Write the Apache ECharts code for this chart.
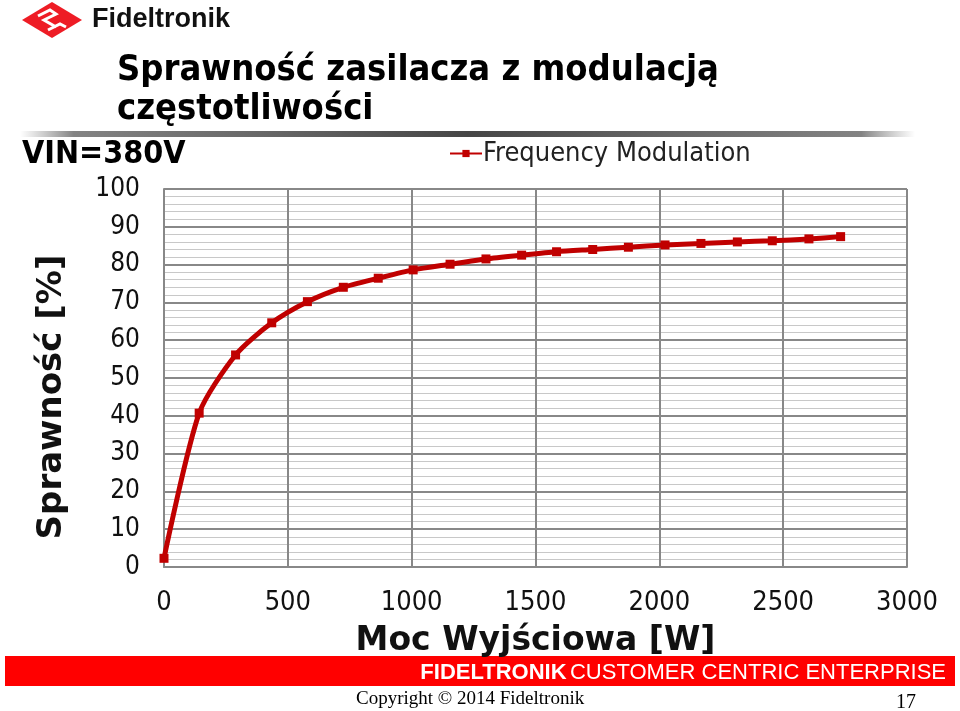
<!DOCTYPE html>
<html><head><meta charset="utf-8">
<script src="https://cdn.jsdelivr.net/npm/echarts@6/dist/echarts.min.js"></script>
<style>html,body{margin:0;padding:0;background:#fff}#c{width:960px;height:711px}</style>
</head><body><div id="c"></div>
<script>
const powerW = [0,142,289,435,579,724,865,1006,1155,1300,1444,1585,1731,1875,2023,2168,2315,2456,2604,2732];
const efficiency = [2.3,40.7,56.1,64.6,70.2,74.0,76.4,78.6,80.1,81.5,82.5,83.4,84.0,84.6,85.2,85.6,86.0,86.3,86.8,87.4];
const seriesName = 'Frequency Modulation';
const titleLines = ['Sprawność zasilacza z modulacją','częstotliwości'];
const yAxisName = 'Sprawność [%]';
const xAxisName = 'Moc Wyjściowa [W]';
const subTitle = 'VIN=380V';

const cond = "'DejaVu Sans Condensed','DejaVu Sans',sans-serif";
const chart = echarts.init(document.getElementById('c'));
chart.setOption({
  animation:false,
  backgroundColor:'#fff',
  grid:{left:164,right:53,top:189,bottom:144,containLabel:false},
  legend:{show:true,left:444,top:135,itemWidth:32,itemHeight:9,itemGap:2,
    textStyle:{fontFamily:cond,fontSize:27,color:'#222',padding:[0,0,0,-4]},data:[seriesName]},
  xAxis:{type:'value',min:0,max:3000,interval:500,
    axisLine:{show:true,lineStyle:{color:'#888',width:2}},
    axisTick:{show:false},
    axisLabel:{margin:22,fontFamily:cond,fontSize:27,color:'#111',formatter:v=>String(v)},
    splitLine:{show:true,lineStyle:{color:'#888',width:2}},
    name:xAxisName,nameLocation:'middle',nameGap:58,
    nameTextStyle:{fontFamily:"'DejaVu Sans',sans-serif",fontWeight:'bold',fontSize:33,color:'#111'}},
  yAxis:{type:'value',min:0,max:100,interval:10,
    axisLine:{show:true,lineStyle:{color:'#888',width:2}},
    axisTick:{show:false},
    axisLabel:{margin:24,fontFamily:cond,fontSize:26,color:'#111'},
    splitLine:{show:true,lineStyle:{color:'#888',width:2}},
    minorTick:{show:false,splitNumber:5},
    minorSplitLine:{show:true,lineStyle:{color:'#c8c8c8',width:1}}},
  series:[{
    name:seriesName,type:'line',
    data:powerW.map((x,i)=>[x,efficiency[i]]),
    smooth:0.25,
    symbol:'rect',symbolSize:9,
    lineStyle:{color:'#c00000',width:5},
    itemStyle:{color:'#c00000'}
  }],
  graphic:[
    // logo
    {type:'polygon',shape:{points:[[22,20],[52,2],[82,20],[52,38]]},style:{fill:'#ee1c25'}},
    {type:'polyline',shape:{points:[[38,16],[50,10],[56,14],[44,20],[56,27]]},style:{stroke:'#fff',lineWidth:3,fill:'none'}},
    {type:'polyline',shape:{points:[[48,30],[60,24],[66,27]]},style:{stroke:'#fff',lineWidth:3,fill:'none'}},
    {type:'text',left:92,top:6,style:{text:'Fideltronik',font:"bold 27px 'Liberation Sans', Arial, sans-serif",fill:'#111'}},
    // title
    {type:'text',left:117,top:53,style:{text:titleLines[0],font:"bold 36px 'DejaVu Sans Condensed','DejaVu Sans',sans-serif",fill:'#000'}},
    {type:'text',left:117,top:92,style:{text:titleLines[1],font:"bold 36px 'DejaVu Sans Condensed','DejaVu Sans',sans-serif",fill:'#000'}},
    // shadow bar
    {type:'rect',shape:{x:20,y:131,width:895,height:6},style:{fill:new echarts.graphic.LinearGradient(0,0,1,0,[
      {offset:0,color:'rgba(120,120,120,0)'},{offset:0.06,color:'rgba(100,100,100,0.8)'},{offset:0.5,color:'rgba(70,70,70,1)'},
      {offset:0.94,color:'rgba(100,100,100,0.8)'},{offset:1,color:'rgba(120,120,120,0)'}])}},
    {type:'text',left:22,top:139,style:{text:subTitle,font:"bold 32px 'DejaVu Sans Condensed','DejaVu Sans',sans-serif",fill:'#000'}},
    // y axis name
    {type:'text',x:52,y:397,rotation:Math.PI/2,style:{text:yAxisName,align:'center',verticalAlign:'middle',font:"bold 34px 'DejaVu Sans',sans-serif",fill:'#111'}},
    // footer
    {type:'rect',shape:{x:5,y:656,width:950,height:30},style:{fill:'#ff0000'}},
    {type:'text',right:14,top:662,style:{rich:{b:{font:"bold 22px 'Liberation Sans', Arial, sans-serif",fill:'#fff'},n:{font:"22px 'Liberation Sans', Arial, sans-serif",fill:'#fff'}},text:'{b|FIDELTRONIK} {n|CUSTOMER CENTRIC ENTERPRISE}'}},
    {type:'text',left:356,top:690,style:{text:'Copyright © 2014 Fideltronik',font:"19px 'Liberation Serif','Times New Roman',serif",fill:'#000'}},
    {type:'text',left:896,top:693,style:{text:'17',font:"20px 'Liberation Serif','Times New Roman',serif",fill:'#000'}}
  ]
});
</script></body></html>
